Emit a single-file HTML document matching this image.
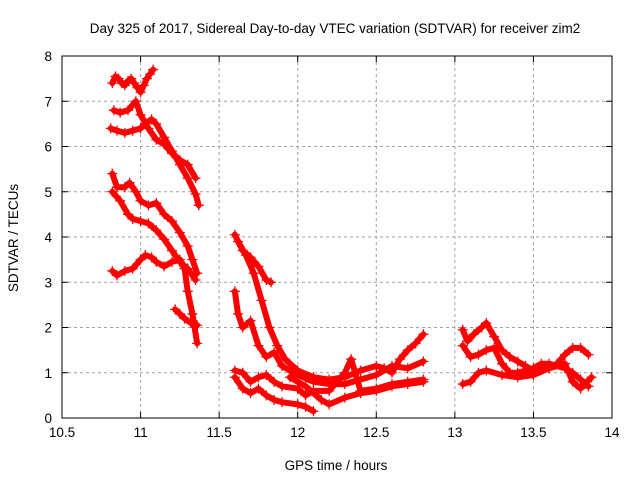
<!DOCTYPE html>
<html><head><meta charset="utf-8"><style>
body{margin:0;background:#fff}
svg{display:block;font-family:"Liberation Sans",sans-serif}
</style></head><body>
<svg id="chart" width="640" height="480" viewBox="0 0 640 480" xmlns="http://www.w3.org/2000/svg">
<text x="335" y="33" font-size="13.5" text-anchor="middle">Day 325 of 2017, Sidereal Day-to-day VTEC variation (SDTVAR) for receiver zim2</text>
<text transform="translate(18,238) rotate(-90)" font-size="13.5" text-anchor="middle">SDTVAR / TECUs</text>
<text x="336" y="470" font-size="13.5" text-anchor="middle">GPS time / hours</text>
<g id="grid"></g>
<g id="axes"></g>
<g id="marks"></g>
</svg>
<script>
const xTicks=[10.5,11,11.5,12,12.5,13,13.5,14];
const yTicks=[0,1,2,3,4,5,6,7,8];
const t1=[[10.82,7.4],[10.84,7.55],[10.86,7.5],[10.88,7.4],[10.9,7.35],[10.92,7.45],[10.94,7.5],[10.96,7.4],[10.98,7.3],[11.0,7.2],[11.02,7.35],[11.04,7.5],[11.06,7.6],[11.08,7.7]];
const t2=[[10.81,6.4],[10.85,6.35],[10.9,6.3],[10.95,6.35],[11.0,6.4],[11.03,6.5],[11.07,6.6],[11.1,6.5],[11.15,6.2],[11.2,5.9],[11.25,5.6],[11.3,5.3],[11.35,4.95],[11.37,4.7]];
const t3=[[10.83,6.8],[10.87,6.75],[10.92,6.8],[10.97,7.0],[11.0,6.7],[11.05,6.4],[11.1,6.15],[11.15,6.05],[11.2,5.85],[11.25,5.7],[11.3,5.6],[11.35,5.3]];
const t4=[[10.82,5.4],[10.85,5.1],[10.9,5.1],[10.93,5.2],[10.97,5.0],[11.0,4.8],[11.05,4.7],[11.1,4.75],[11.15,4.5],[11.2,4.35],[11.25,4.1],[11.3,3.8],[11.33,3.5],[11.36,3.2]];
const t5=[[10.82,5.0],[10.87,4.8],[10.92,4.5],[10.95,4.4],[11.0,4.35],[11.05,4.3],[11.1,4.15],[11.15,3.95],[11.2,3.7],[11.25,3.45],[11.3,3.3],[11.35,3.05]];
const t6=[[10.82,3.25],[10.85,3.15],[10.9,3.25],[10.95,3.3],[11.0,3.5],[11.03,3.6],[11.07,3.55],[11.1,3.45],[11.15,3.35],[11.2,3.45],[11.25,3.5],[11.28,3.3],[11.3,2.8],[11.33,2.3],[11.36,1.65]];
const t7=[[11.22,2.4],[11.25,2.3],[11.28,2.2],[11.32,2.1],[11.36,2.05]];
const u1=[[11.6,4.05],[11.65,3.7],[11.7,3.55],[11.75,3.35],[11.8,3.05],[11.83,3.0]];
const v1=[[11.62,3.9],[11.67,3.6],[11.72,3.2],[11.77,2.6],[11.82,2.0],[11.87,1.6],[11.92,1.3],[12.0,1.05],[12.1,0.9],[12.2,0.85],[12.3,0.9],[12.4,1.05],[12.5,1.15],[12.55,1.1],[12.6,1.0],[12.65,1.3],[12.7,1.5],[12.75,1.65],[12.8,1.85]];
const v2=[[11.6,2.8],[11.62,2.3],[11.65,2.0],[11.7,2.15],[11.75,1.6],[11.8,1.35],[11.85,1.45],[11.9,1.15],[11.95,1.05],[12.0,0.95],[12.1,0.8],[12.2,0.75],[12.3,0.75],[12.4,0.85],[12.5,0.95],[12.6,1.15],[12.7,1.1],[12.8,1.25]];
const v3=[[11.6,1.05],[11.65,1.0],[11.7,0.8],[11.75,0.9],[11.8,0.95],[11.85,0.8],[11.9,0.7],[12.0,0.65],[12.05,0.5],[12.1,0.6],[12.2,0.6],[12.25,0.8],[12.3,1.0],[12.34,1.3],[12.4,0.6],[12.5,0.65],[12.6,0.75],[12.7,0.8],[12.8,0.85]];
const v4=[[11.6,0.9],[11.65,0.65],[11.7,0.55],[11.75,0.65],[11.8,0.5],[11.85,0.4],[11.9,0.35],[12.0,0.3],[12.05,0.25],[12.1,0.15]];
const v5=[[11.95,0.9],[12.05,0.7],[12.15,0.4],[12.2,0.3],[12.3,0.45],[12.4,0.55],[12.5,0.6],[12.6,0.7],[12.7,0.75],[12.8,0.8]];
const w1=[[13.05,1.95],[13.08,1.7],[13.12,1.85],[13.17,2.0],[13.2,2.1],[13.25,1.8],[13.3,1.5],[13.35,1.35],[13.4,1.25],[13.45,1.15],[13.5,1.05],[13.55,1.1],[13.6,1.1],[13.65,1.2],[13.7,1.4],[13.75,1.55],[13.8,1.55],[13.85,1.4]];
const w2=[[13.05,1.6],[13.1,1.35],[13.15,1.4],[13.2,1.5],[13.25,1.55],[13.3,1.2],[13.35,1.0],[13.4,1.0],[13.5,1.1],[13.55,1.2],[13.6,1.2],[13.7,1.1],[13.75,1.0],[13.8,0.85],[13.85,0.7]];
const w3=[[13.05,0.75],[13.1,0.8],[13.15,1.0],[13.2,1.05],[13.3,0.95],[13.4,0.9],[13.5,0.95],[13.6,1.1],[13.7,1.2],[13.75,0.8],[13.8,0.65],[13.87,0.9]];
const seriesList=[t1,t2,t3,t4,t5,t6,t7,u1,v1,v2,v3,v4,v5,w1,w2,w3];

const L=62,R=612,T=56,B=418;
function xs(v){return L+(v-10.5)/3.5*(R-L);}
function ys(v){return B-v/8*(B-T);}
const NS="http://www.w3.org/2000/svg";
function mk(tag,attrs,parent){const e=document.createElementNS(NS,tag);for(const k in attrs)e.setAttribute(k,attrs[k]);parent.appendChild(e);return e;}
const grid=document.getElementById('grid'),axes=document.getElementById('axes'),marks=document.getElementById('marks');
xTicks.forEach((t,i)=>{
  const x=xs(t);
  if(i>0&&i<xTicks.length-1){const g=mk('line',{x1:x,x2:x,y1:T,y2:B,stroke:'#a0a0a0','stroke-dasharray':'3,3'},grid);
  
  }
  mk('line',{x1:x,x2:x,y1:B,y2:B-6,stroke:'#000'},axes);
  mk('line',{x1:x,x2:x,y1:T,y2:T+6,stroke:'#000'},axes);
  const tx=mk('text',{x:x,y:B+19,'font-size':'13.5','text-anchor':'middle'},axes);
  tx.textContent=String(t);
  
  
});
yTicks.forEach((t,i)=>{
  const y=ys(t);
  if(i>0&&i<yTicks.length-1){const g=mk('line',{x1:L,x2:R,y1:y,y2:y,stroke:'#a0a0a0','stroke-dasharray':'3,3'},grid);
  
  }
  mk('line',{x1:L,x2:L+6,y1:y,y2:y,stroke:'#000'},axes);
  mk('line',{x1:R,x2:R-6,y1:y,y2:y,stroke:'#000'},axes);
  const tx=mk('text',{x:L-10,y:y+5,'font-size':'13.5','text-anchor':'end'},axes);
  tx.textContent=String(t);
  
  
});
const fr=mk('rect',{x:L,y:T,width:R-L,height:B-T,fill:'none',stroke:'#000'},axes);


seriesList.forEach(s=>{
  const pl=mk('polyline',{points:s.map(p=>xs(p[0])+','+ys(p[1])).join(' '),fill:'none',stroke:'#f00','stroke-width':'6','stroke-linejoin':'round','stroke-linecap':'round'},marks);
  
  
  s.forEach(p=>{
    const x=xs(p[0]),y=ys(p[1]);
    const pt=mk('path',{d:`M${x-5},${y}H${x+5}M${x},${y-5}V${y+5}`,stroke:'#f00','stroke-width':'1.3'},marks);
    
    
  });
});
</script>
</body></html>
